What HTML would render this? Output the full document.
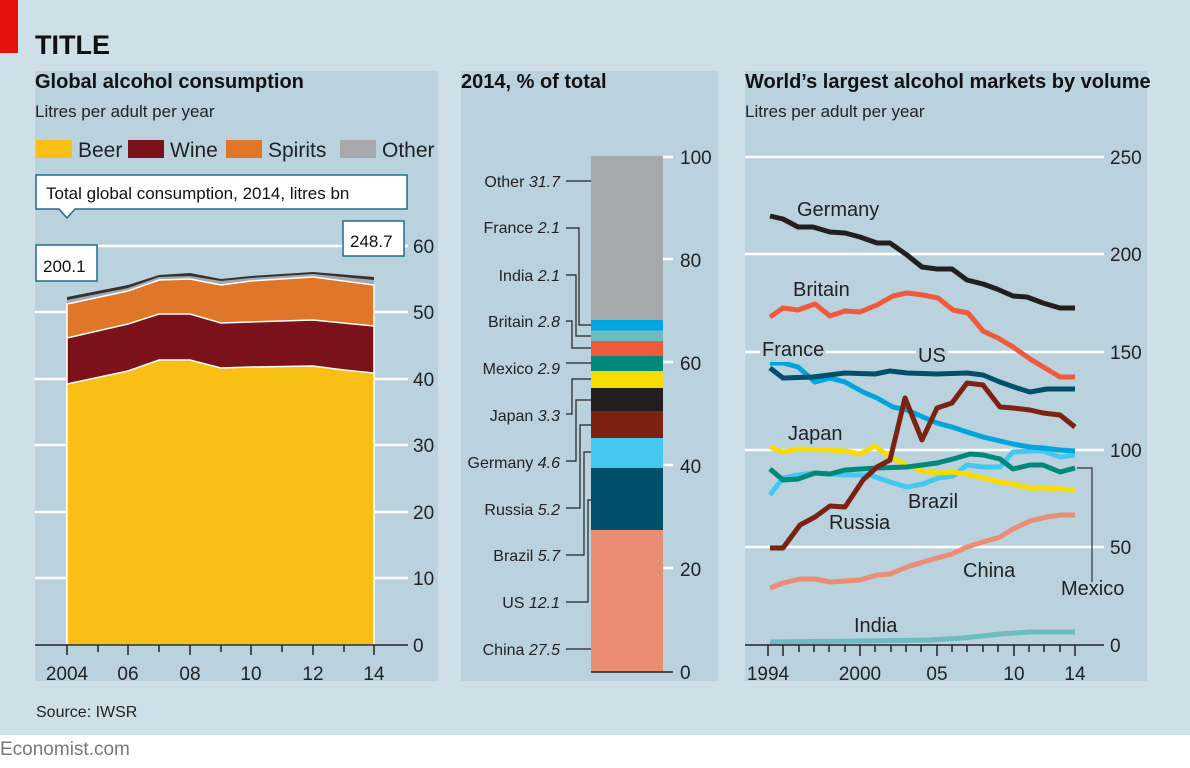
<!DOCTYPE html>
<html><head><meta charset="utf-8"><style>
html,body{margin:0;padding:0;background:#fff;}
svg{display:block;font-family:"Liberation Sans",sans-serif;}
</style></head><body>
<svg width="1190" height="768" viewBox="0 0 1190 768">
<rect x="0" y="0" width="1190" height="735" fill="#cfdfe7"/>
<rect x="0" y="0" width="18" height="53" fill="#e3120b"/>
<text x="35" y="54" font-size="27" font-weight="bold" fill="#111">TITLE</text>

<!-- panels -->
<rect x="35" y="71" width="403" height="610" fill="#bad2de"/>
<rect x="461" y="71" width="257" height="610" fill="#bad2de"/>
<rect x="745" y="71" width="402" height="610" fill="#bad2de"/>

<!-- LEFT -->
<text x="35" y="88" font-size="20" font-weight="bold" fill="#111">Global alcohol consumption</text>
<text x="35" y="117" font-size="17" fill="#222">Litres per adult per year</text>
<rect x="36" y="140" width="36" height="18" fill="#f9bf14"/><text x="78" y="157" font-size="21" fill="#222">Beer</text>
<rect x="128" y="140" width="36" height="18" fill="#7a111b"/><text x="170" y="157" font-size="21" fill="#222">Wine</text>
<rect x="226" y="140" width="36" height="18" fill="#e07628"/><text x="268" y="157" font-size="21" fill="#222">Spirits</text>
<rect x="340" y="140" width="36" height="18" fill="#a6a8ab"/><text x="382" y="157" font-size="21" fill="#222">Other</text>
<g stroke="#fff" stroke-width="2.5">
<line x1="35" y1="246" x2="408" y2="246"/><line x1="35" y1="312" x2="408" y2="312"/><line x1="35" y1="379" x2="408" y2="379"/><line x1="35" y1="445" x2="408" y2="445"/><line x1="35" y1="512" x2="408" y2="512"/><line x1="35" y1="578" x2="408" y2="578"/>
</g>
<g font-size="19" fill="#222">
<text x="413" y="253">60</text><text x="413" y="319">50</text><text x="413" y="386">40</text><text x="413" y="452">30</text><text x="413" y="519">20</text><text x="413" y="585">10</text><text x="413" y="652">0</text>
</g>
<!-- areas: x = 67 + (yr-2004)*30.7, y = 645 - v*6.65 -->
<polygon fill="#333" points="67,645 67,297 128,285 159,275 190,273 221,279 251,276 313,272 374,277 374,645"/>
<polygon fill="#a6a8ab" points="67,645 67,300 128,288 159,277 190,276 221,281 251,278 313,274 374,280 374,645"/>
<polygon fill="#e07628" stroke="#fff" stroke-width="1.5" points="67,645 67,304 128,291 159,280 190,279 221,285 251,281 313,277 374,285 374,645"/>
<polygon fill="#7a111b" stroke="#fff" stroke-width="1.5" points="67,645 67,338 128,324 159,314 190,314 221,323 251,322 313,320 374,326 374,645"/>
<polygon fill="#f9bf14" stroke="#fff" stroke-width="1.5" points="67,645 67,384 128,371 159,360 190,360 221,368 251,367 313,366 344,370 374,373 374,645"/>
<line x1="35" y1="645" x2="408" y2="645" stroke="#222" stroke-width="1.5"/>
<g stroke="#222" stroke-width="1.5">
<line x1="67" y1="645" x2="67" y2="655"/><line x1="98" y1="645" x2="98" y2="652"/><line x1="128" y1="645" x2="128" y2="655"/><line x1="159" y1="645" x2="159" y2="652"/><line x1="190" y1="645" x2="190" y2="655"/><line x1="221" y1="645" x2="221" y2="652"/><line x1="251" y1="645" x2="251" y2="655"/><line x1="282" y1="645" x2="282" y2="652"/><line x1="313" y1="645" x2="313" y2="655"/><line x1="344" y1="645" x2="344" y2="652"/><line x1="374" y1="645" x2="374" y2="655"/>
</g>
<g font-size="19" fill="#222" text-anchor="middle">
<text x="67" y="680">2004</text><text x="128" y="680">06</text><text x="190" y="680">08</text><text x="251" y="680">10</text><text x="313" y="680">12</text><text x="374" y="680">14</text>
</g>
<path d="M36,175 H407 V209 H75 L67,218 L59,209 H36 Z" fill="#fff" stroke="#1f6d87" stroke-width="1.5"/>
<text x="46" y="199" font-size="17" fill="#111">Total global consumption, 2014, litres bn</text>
<rect x="36" y="245" width="61" height="36" fill="#fff" stroke="#1f6d87" stroke-width="1.5"/>
<text x="43" y="272" font-size="17" fill="#111">200.1</text>
<rect x="343" y="221" width="61" height="35" fill="#fff" stroke="#1f6d87" stroke-width="1.5"/>
<text x="350" y="247" font-size="17" fill="#111">248.7</text>
<text x="36" y="717" font-size="16" fill="#222">Source: IWSR</text>
<text x="0" y="755" font-size="19" fill="#777">Economist.com</text>

<!-- MIDDLE -->
<text x="461" y="88" font-size="20" font-weight="bold" fill="#111">2014, % of total</text>
<rect x="591" y="156" width="72" height="164" fill="#a6a8ab"/>
<rect x="591" y="320" width="72" height="10.5" fill="#00a5df"/>
<rect x="591" y="330.5" width="72" height="10.5" fill="#6cbcc0"/>
<rect x="591" y="341" width="72" height="15" fill="#f05a3c"/>
<rect x="591" y="356" width="72" height="15" fill="#00897b"/>
<rect x="591" y="371" width="72" height="17" fill="#f8dc00"/>
<rect x="591" y="388" width="72" height="23" fill="#231f20"/>
<rect x="591" y="411" width="72" height="27" fill="#7b2212"/>
<rect x="591" y="438" width="72" height="30" fill="#45c8f0"/>
<rect x="591" y="468" width="72" height="62" fill="#004f6b"/>
<rect x="591" y="530" width="72" height="142" fill="#e98e74"/>
<g stroke="#fff" stroke-width="2.5"><line x1="663" y1="157" x2="673" y2="157"/><line x1="663" y1="259" x2="673" y2="259"/><line x1="663" y1="362" x2="673" y2="362"/><line x1="663" y1="465" x2="673" y2="465"/><line x1="663" y1="568" x2="673" y2="568"/></g>
<line x1="591" y1="672" x2="673" y2="672" stroke="#222" stroke-width="1.5"/>
<g font-size="19" fill="#222"><text x="680" y="164">100</text><text x="680" y="267">80</text><text x="680" y="370">60</text><text x="680" y="473">40</text><text x="680" y="576">20</text><text x="680" y="679">0</text></g>
<g font-size="16" fill="#222" text-anchor="end">
<text x="560" y="187">Other <tspan font-style="italic">31.7</tspan></text>
<text x="560" y="233">France <tspan font-style="italic">2.1</tspan></text>
<text x="560" y="281">India <tspan font-style="italic">2.1</tspan></text>
<text x="560" y="327">Britain <tspan font-style="italic">2.8</tspan></text>
<text x="560" y="374">Mexico <tspan font-style="italic">2.9</tspan></text>
<text x="560" y="421">Japan <tspan font-style="italic">3.3</tspan></text>
<text x="560" y="468">Germany <tspan font-style="italic">4.6</tspan></text>
<text x="560" y="515">Russia <tspan font-style="italic">5.2</tspan></text>
<text x="560" y="561">Brazil <tspan font-style="italic">5.7</tspan></text>
<text x="560" y="608">US <tspan font-style="italic">12.1</tspan></text>
<text x="560" y="655">China <tspan font-style="italic">27.5</tspan></text>
</g>
<g stroke="#222" stroke-width="1.2" fill="none">
<path d="M566,181 H591"/>
<path d="M566,228 H579 V325 H591"/>
<path d="M566,275 H576 V336 H591"/>
<path d="M566,321 H572 V348 H591"/>
<path d="M566,363 H591"/>
<path d="M566,414 H572 V379 H591"/>
<path d="M566,461 H576 V400 H591"/>
<path d="M566,508 H580 V425 H591"/>
<path d="M566,555 H584 V452 H591"/>
<path d="M566,602 H588 V500 H591"/>
<path d="M566,649 H591"/>
</g>

<!-- RIGHT -->
<text x="745" y="88" font-size="20" font-weight="bold" fill="#111">World’s largest alcohol markets by volume</text>
<text x="745" y="117" font-size="17" fill="#222">Litres per adult per year</text>
<g stroke="#fff" stroke-width="2.5">
<line x1="745" y1="157" x2="1104" y2="157"/><line x1="745" y1="254" x2="1104" y2="254"/><line x1="745" y1="352" x2="1104" y2="352"/><line x1="745" y1="450" x2="1104" y2="450"/><line x1="745" y1="547" x2="1104" y2="547"/>
</g>
<g font-size="19" fill="#222">
<text x="1110" y="164">250</text><text x="1110" y="261">200</text><text x="1110" y="359">150</text><text x="1110" y="457">100</text><text x="1110" y="554">50</text><text x="1110" y="652">0</text>
</g>
<g fill="none" stroke-width="5" stroke-linejoin="round">
<polyline stroke="#6cbcc0" points="770,642 860,641 930,640 963,638 1000,634 1030,632 1075,632"/>
<polyline stroke="#e98e74" points="770,588 783,583 800,579 815,579 830,582 860,580 877,575 890,574 907,567 923,562 937,558 952,554 967,547 983,542 1000,537 1013,529 1030,521 1047,517 1060,515 1075,515"/>
<polyline stroke="#45c8f0" points="770,495 783,478 798,475 815,473 845,475 870,475 890,482 907,487 923,484 938,478 953,476 967,465 983,467 1000,467 1013,452 1030,451 1043,451 1060,457 1075,455"/>
<polyline stroke="#f8dc00" points="770,447 783,452 798,449 830,450 845,451 860,454 875,446 890,457 907,465 922,471 937,473 952,472 967,474 983,478 1000,482 1013,484 1030,488 1047,488 1075,490"/>
<polyline stroke="#00897b" points="770,469 783,480 798,479 815,473 830,474 845,470 877,468 907,467 937,463 953,459 970,454 983,455 1000,459 1013,469 1030,465 1043,465 1060,472 1075,468"/>
<polyline stroke="#00a5df" points="770,363 783,363 798,367 815,382 830,378 845,382 863,392 877,398 893,407 907,410 923,417 937,423 952,427 967,432 983,437 1000,441 1013,444 1030,447 1043,448 1060,450 1075,451"/>
<polyline stroke="#7b2212" points="770,548 783,548 800,525 815,517 830,506 845,507 863,480 877,467 890,460 905,398 922,440 937,408 952,403 967,383 983,385 1000,407 1013,408 1030,410 1043,413 1060,415 1075,427"/>
<polyline stroke="#004f6b" points="770,368 783,378 813,377 845,373 875,374 890,371 907,373 937,374 967,373 983,375 1000,382 1017,388 1030,392 1047,389 1075,389"/>
<polyline stroke="#f05a3c" points="770,317 783,308 798,310 815,304 830,316 845,311 860,312 877,305 893,296 907,293 923,295 938,298 953,310 968,313 983,331 998,338 1013,347 1030,359 1045,368 1060,377 1075,377"/>
<polyline stroke="#231f20" points="770,216 783,219 798,227 813,227 830,232 845,233 860,237 877,243 890,243 907,255 922,267 937,269 952,269 967,280 983,284 997,289 1013,296 1027,297 1043,303 1060,308 1075,308"/>
</g>
<path d="M1077,468 H1092 V582" stroke="#333" stroke-width="1.2" fill="none"/>
<line x1="745" y1="645" x2="1104" y2="645" stroke="#222" stroke-width="1.5"/>
<g stroke="#222" stroke-width="1.5">
<line x1="768" y1="645" x2="768" y2="656"/><line x1="783" y1="645" x2="783" y2="656"/><line x1="799" y1="645" x2="799" y2="652"/><line x1="814" y1="645" x2="814" y2="652"/><line x1="829" y1="645" x2="829" y2="652"/><line x1="845" y1="645" x2="845" y2="652"/><line x1="860" y1="645" x2="860" y2="656"/><line x1="875" y1="645" x2="875" y2="652"/><line x1="891" y1="645" x2="891" y2="652"/><line x1="906" y1="645" x2="906" y2="652"/><line x1="921" y1="645" x2="921" y2="652"/><line x1="937" y1="645" x2="937" y2="656"/><line x1="952" y1="645" x2="952" y2="652"/><line x1="967" y1="645" x2="967" y2="652"/><line x1="983" y1="645" x2="983" y2="652"/><line x1="998" y1="645" x2="998" y2="652"/><line x1="1014" y1="645" x2="1014" y2="656"/><line x1="1029" y1="645" x2="1029" y2="652"/><line x1="1044" y1="645" x2="1044" y2="652"/><line x1="1060" y1="645" x2="1060" y2="652"/><line x1="1075" y1="645" x2="1075" y2="656"/>
</g>
<g font-size="19" fill="#222" text-anchor="middle">
<text x="768" y="680">1994</text><text x="860" y="680">2000</text><text x="937" y="680">05</text><text x="1014" y="680">10</text><text x="1075" y="680">14</text>
</g>
<rect x="760" y="340" width="66" height="22" fill="#bad2de"/>
<rect x="916" y="345" width="32" height="22" fill="#bad2de"/>
<g font-size="20" fill="#222">
<text x="797" y="216">Germany</text>
<text x="793" y="296">Britain</text>
<text x="762" y="356">France</text>
<text x="918" y="362">US</text>
<text x="788" y="440">Japan</text>
<text x="908" y="508">Brazil</text>
<text x="829" y="529">Russia</text>
<text x="963" y="577">China</text>
<text x="1061" y="595">Mexico</text>
<text x="854" y="632">India</text>
</g>
</svg>
</body></html>
